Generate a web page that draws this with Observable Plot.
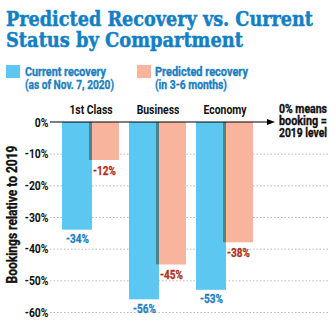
<!DOCTYPE html>
<html><head><meta charset="utf-8">
<script src="https://cdn.jsdelivr.net/npm/d3@7"></script>
<script src="https://cdn.jsdelivr.net/npm/@observablehq/plot@0.6"></script>
<style>
body{margin:0;width:335px;height:321px;background:#fff;position:relative;overflow:hidden;}
.cond{font-family:Roboto,"Liberation Sans",sans-serif;font-weight:bold;-webkit-text-stroke:0.35px currentColor;}
.ln{display:block;width:max-content;white-space:nowrap;transform-origin:0 0;}
#title{position:absolute;left:6px;top:8px;font-family:"DejaVu Serif",serif;font-weight:bold;font-size:21px;line-height:21px;color:#1380c3;-webkit-text-stroke:0.5px #1380c3;}
.sw{position:absolute;width:14px;height:13px;top:65px;}
.lg{position:absolute;top:65px;font-size:12.5px;line-height:13px;color:#1d7fc0;}
#note{position:absolute;left:279px;top:102.5px;font-size:13px;line-height:12px;color:#111;z-index:2;}
#chart{position:absolute;left:0;top:95px;z-index:1;}
</style></head>
<body>
<div id="title"><span class="ln" data-w="307">Predicted Recovery vs. Current</span><span class="ln" data-w="237">Status by Compartment</span></div>
<div class="sw" style="left:6px;background:#5cc8f2"></div>
<div class="lg cond" style="left:25px"><span class="ln" data-w="81">Current recovery</span><span class="ln" data-w="89">(as of Nov. 7, 2020)</span></div>
<div class="sw" style="left:137px;background:#f8b49c"></div>
<div class="lg cond" style="left:155px"><span class="ln" data-w="93">Predicted recovery</span><span class="ln" data-w="72">(in 3-6 months)</span></div>
<div id="note" class="cond"><span class="ln" data-w="48">0% means</span><span class="ln" data-w="48">booking =</span><span class="ln" data-w="48">2019 level</span></div>
<div id="chart"></div>
<script>
const categories = ["1st Class", "Business", "Economy"];
const current = [-34, -56, -53];
const predicted = [-12, -45, -38];
const yTicks = [0, -10, -20, -30, -40, -50, -60];

const rows = categories.map((c, i) => ({cat: c, cur: current[i], pred: predicted[i], both: Math.max(current[i], predicted[i])}));

const condFont = 'Roboto,"Liberation Sans",sans-serif';

const zeroArrow = (index, scales, values, dims) => {
  const y = scales.y(0);
  const g = document.createElementNS("http://www.w3.org/2000/svg", "g");
  const x1 = dims.marginLeft, x2 = 275;
  g.innerHTML = `<line x1="${x1}" x2="${x2 - 5}" y1="${y}" y2="${y}" stroke="#000" stroke-width="1.2"/>` +
    `<path d="M${x2},${y} L${x2 - 8},${y - 3} L${x2 - 8},${y + 3} Z" fill="#000"/>`;
  return g;
};

const plot = Plot.plot({
  width: 335,
  height: 226,
  marginLeft: 50,
  marginRight: 5,
  marginTop: 27,
  marginBottom: 9,
  style: {fontFamily: condFont, fontWeight: "bold", fontSize: "13px", color: "#111", background: "transparent", overflow: "visible"},
  x: {domain: categories, range: [50, 266], paddingInner: 10/68, paddingOuter: 0.162, axis: null},
  y: {domain: [-60, 0], range: [217, 27], axis: null},
  marks: [
    Plot.ruleY(yTicks.filter(d => d !== 0), {stroke: "#bbb", strokeDasharray: "1.5,2", strokeWidth: 1}),
    Plot.barY(rows, {x: "cat", y: "cur", fill: "#5cc8f2", insetRight: 27}),
    Plot.barY(rows, {x: "cat", y: "pred", fill: "#f8b49c", insetLeft: 27}),
    Plot.barY(rows, {x: "cat", y: "both", fill: "#4f8486", insetLeft: 27, insetRight: 27}),
    Plot.text(rows, {x: "cat", y: "cur", text: d => d.cur + "%", dx: -13.5, dy: 9, fill: "#1d7fc0", stroke: "#1d7fc0", strokeWidth: 0.3, fontSize: 12.5}),
    Plot.text(rows, {x: "cat", y: "pred", text: d => d.pred + "%", dx: 13.5, dy: 10, fill: "#b0301c", stroke: "#b0301c", strokeWidth: 0.3, fontSize: 12.5}),
    Plot.axisY({ticks: yTicks, tickSize: 0, tickPadding: 2, tickFormat: d => d + "%", label: null, fontSize: 13, fill: "#111", stroke: "#111", strokeWidth: 0.35}),
    Plot.axisX({anchor: "top", tickSize: 0, tickPadding: 9, label: null, fontSize: 13, fill: "#111", stroke: "#111", strokeWidth: 0.35}),
    Plot.text(["Bookings relative to 2019"], {frameAnchor: "left", textAnchor: "middle", dx: -38, dy: -3, rotate: -90, fontSize: 14, fill: "#111", stroke: "#111", strokeWidth: 0.35}),
    zeroArrow
  ]
});
document.getElementById("chart").appendChild(plot);

// condense SVG texts (narrow typeface look)
plot.querySelectorAll("text").forEach(t => {
  const len = t.getComputedTextLength();
  const isLabel = t.textContent === "Bookings relative to 2019";
  const target = isLabel ? 138 : len * 0.8;
  t.setAttribute("textLength", target);
  t.setAttribute("lengthAdjust", "spacingAndGlyphs");
});
// condense HTML lines to measured widths
document.querySelectorAll(".ln[data-w]").forEach(el => {
  const w = el.getBoundingClientRect().width;
  const target = +el.dataset.w;
  el.style.transform = `scaleX(${target / w})`;
});
</script>
</body></html>
